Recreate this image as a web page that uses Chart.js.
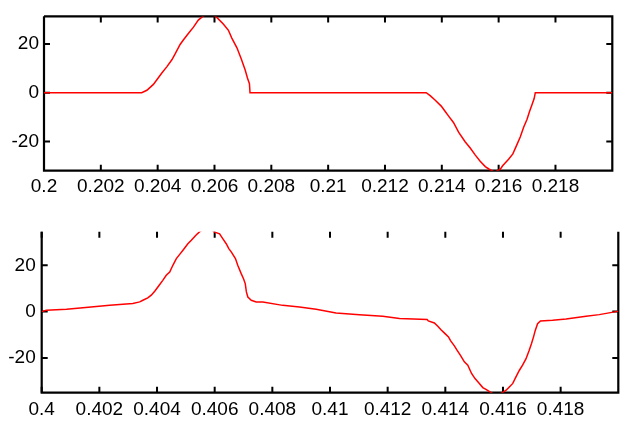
<!DOCTYPE html>
<html><head><meta charset="utf-8">
<script src="https://cdn.jsdelivr.net/npm/chart.js@4"></script>
<style>
html,body{margin:0;padding:0;background:#fff;overflow:hidden;width:622px;height:421px}
canvas{position:absolute;left:0}
#c1{top:0}
#c2{top:210px}
</style></head>
<body>
<canvas id="c1" width="622" height="210"></canvas>
<canvas id="c2" width="622" height="211"></canvas>
<script>
// ---- top panel data ----
const topX = [0.2, 0.20344, 0.20362, 0.20385, 0.20414, 0.20432, 0.20450, 0.20461, 0.20479, 0.20491,
  0.20508, 0.20526, 0.20543, 0.20561, 0.20579, 0.20599, 0.20608, 0.20631, 0.20649, 0.20661,
  0.20679, 0.20694, 0.20708, 0.20716, 0.20723, 0.20725, 0.21345, 0.21359, 0.21377, 0.21398,
  0.21412, 0.21424, 0.21441, 0.21459, 0.21482, 0.21500, 0.21518, 0.21535, 0.21553, 0.21567,
  0.21586, 0.21606, 0.21614, 0.21635, 0.21650, 0.21664, 0.21676, 0.21688, 0.21700, 0.21709,
  0.21717, 0.21725, 0.21729, 0.22];
const topY = [0, 0, 1.0, 3.4, 8.0, 10.6, 13.5, 15.8, 19.8, 21.7,
  24.3, 26.9, 29.8, 31.5, 32.4, 31.6, 30.9, 28.2, 25.6, 22.4,
  18.4, 13.9, 9.3, 6.0, 3.7, 0, 0, -1.2, -3.1, -5.5,
  -7.7, -9.6, -12.2, -16.2, -20.1, -22.7, -25.6, -28.1, -30.3, -31.4,
  -32.6, -31.4, -30.0, -27.3, -25.1, -21.4, -18.2, -14.2, -10.9, -7.6,
  -5.0, -2.4, 0, 0];
const topXTicks = [0.2, 0.202, 0.204, 0.206, 0.208, 0.21, 0.212, 0.214, 0.216, 0.218];
const topXLabels = ["0.2", "0.202", "0.204", "0.206", "0.208", "0.21", "0.212", "0.214", "0.216", "0.218"];

// ---- bottom panel data ----
const botX = [0.4, 0.40016, 0.40086, 0.40143, 0.40236, 0.40316, 0.40340, 0.40351, 0.40368, 0.40380,
  0.40392, 0.40403, 0.40420, 0.40432, 0.40444, 0.40455, 0.40467, 0.40478, 0.40490, 0.40507,
  0.40519, 0.40534, 0.40548, 0.40574, 0.40600, 0.40617, 0.40628, 0.40640, 0.40649, 0.40658,
  0.40672, 0.40680, 0.40692, 0.40700, 0.40706, 0.40710, 0.40715, 0.40727, 0.40744, 0.40767,
  0.40836, 0.40894, 0.40952, 0.41021, 0.41102, 0.41183, 0.41241, 0.41337, 0.41341, 0.41362,
  0.41374, 0.41385, 0.41399, 0.41411, 0.41418, 0.41432, 0.41441, 0.41452, 0.41466, 0.41478,
  0.41491, 0.41503, 0.41518, 0.41530, 0.41541, 0.41579, 0.41611, 0.41622, 0.41634, 0.41645,
  0.41657, 0.41668, 0.41680, 0.41691, 0.41699, 0.41706, 0.41712, 0.41720, 0.41730, 0.41772,
  0.41819, 0.41888, 0.41934, 0.41992, 0.42];
const botY = [0, 0.6, 1.0, 1.7, 2.7, 3.5, 4.2, 4.9, 5.9, 7.1,
  8.8, 10.6, 13.5, 15.7, 17.1, 20.0, 22.9, 24.6, 26.5, 29.3,
  30.8, 32.9, 34.5, 36.5, 34.3, 33.6, 31.5, 29.3, 27.2, 25.7,
  22.9, 20.0, 16.4, 14.2, 12.1, 8.5, 6.3, 4.9, 4.2, 4.2,
  2.7, 2.0, 1.0, -0.6, -1.3, -2.0, -3.0, -3.4, -4.0, -4.9,
  -6.3, -7.8, -9.5, -10.9, -12.5, -14.9, -16.7, -18.8, -21.7, -23.1,
  -26.7, -28.9, -31.0, -32.8, -33.6, -36.5, -33.9, -32.5, -31.0, -28.2,
  -25.3, -23.1, -20.3, -16.7, -13.8, -10.9, -8.1, -5.2, -4.0, -3.7,
  -3.2, -2.0, -1.3, 0, 0.2];
const botXTicks = [0.4, 0.402, 0.404, 0.406, 0.408, 0.41, 0.412, 0.414, 0.416, 0.418];
const botXLabels = ["0.4", "0.402", "0.404", "0.406", "0.408", "0.41", "0.412", "0.414", "0.416", "0.418"];

const yTicks = [-20, 0, 20];
const yLabels = ["-20", "0", "20"];

const framePlugin = {
  id: 'frame',
  beforeDatasetsDraw(chart, args, opts) {
    const ctx = chart.ctx, a = chart.chartArea, xs = chart.scales.x, ys = chart.scales.y;
    ctx.save();
    ctx.strokeStyle = '#000';
    ctx.lineWidth = 2.2;
    ctx.beginPath();
    ctx.moveTo(a.left, a.top);
    ctx.lineTo(a.left, a.bottom);
    ctx.lineTo(a.right, a.bottom);
    ctx.lineTo(a.right, a.top);
    if (opts.top) ctx.lineTo(a.left, a.top);
    ctx.stroke();
    const L = 6;
    ctx.lineWidth = 2;
    ctx.beginPath();
    xs.ticks.forEach(t => {
      const p = xs.getPixelForValue(t.value);
      ctx.moveTo(p, a.bottom); ctx.lineTo(p, a.bottom - L);
      ctx.moveTo(p, a.top); ctx.lineTo(p, a.top + L);
    });
    ys.ticks.forEach(t => {
      const p = ys.getPixelForValue(t.value);
      ctx.moveTo(a.left, p); ctx.lineTo(a.left + L, p);
      ctx.moveTo(a.right, p); ctx.lineTo(a.right - L, p);
    });
    ctx.stroke();
    ctx.restore();
  }
};

function makeChart(id, xs, ys, xTicks, xLabels, g) {
  const font = { family: 'Liberation Sans, Arial, sans-serif', size: 19 };
  return new Chart(document.getElementById(id), {
    type: 'line',
    data: { datasets: [{
      data: ys.map((v, i) => ({ x: xs[i], y: v })),
      borderColor: '#ff0000', borderWidth: 1.5, pointRadius: 0, tension: 0, fill: false
    }]},
    options: {
      responsive: false, animation: false, events: [],
      layout: { padding: { top: g.top, right: g.right, left: 0, bottom: 0 } },
      plugins: { legend: { display: false }, tooltip: { enabled: false }, frame: { top: g.frameTop } },
      scales: {
        x: {
          type: 'linear', min: g.xmin, max: g.xmax,
          grid: { display: false, drawTicks: false }, border: { display: false },
          afterBuildTicks: s => { s.ticks = xTicks.map(v => ({ value: v })); },
          afterFit: s => { s.height = g.xh; },
          ticks: { font, color: '#000', padding: g.xpad, maxRotation: 0, autoSkip: false,
            callback: (v, i) => xLabels[i] }
        },
        y: {
          min: g.ymin, max: g.ymax,
          grid: { display: false, drawTicks: false }, border: { display: false },
          afterBuildTicks: s => { s.ticks = yTicks.map(v => ({ value: v })); },
          afterFit: s => { s.width = g.yw; },
          ticks: { font, color: '#000', padding: g.ypad, callback: (v, i) => yLabels[i] }
        }
      }
    },
    plugins: [framePlugin]
  });
}

makeChart('c1', topX, topY, topXTicks, topXLabels,
  { top: 8.7, right: 9.7, xh: 39.3, yw: 44, xmin: 0.2, xmax: 0.22, ymin: -32, ymax: 31.3, xpad: 5, ypad: 5, frameTop: true });
makeChart('c2', botX, botY, botXTicks, botXLabels,
  { top: 21.7, right: 3.7, xh: 28.3, yw: 41.7, xmin: 0.4, xmax: 0.42, ymin: -35, ymax: 34.5, xpad: 6, ypad: 6, frameTop: false });
</script>
</body></html>
